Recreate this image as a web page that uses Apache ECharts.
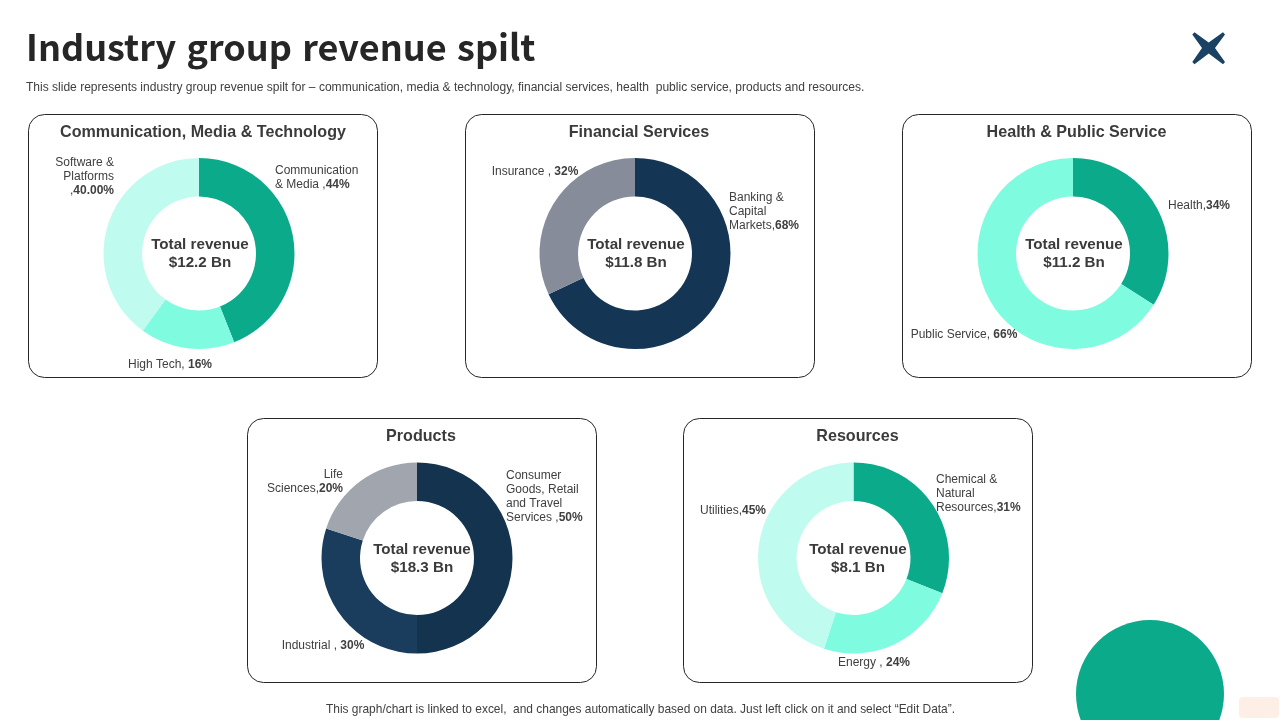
<!DOCTYPE html>
<html><head><meta charset="utf-8">
<style>html,body{margin:0;padding:0;background:#fff}#c{width:1280px;height:720px}</style>
<script src="https://cdn.jsdelivr.net/npm/echarts@6/dist/echarts.min.js"></script>
</head><body><div id="c"></div>
<script>
// ---- data ----
const commNames = ["Communication\n& Media ,", "High Tech, ", "Software &\nPlatforms\n,"];
const commValues = [44, 16, 40];
const commPct = ["44%", "16%", "40.00%"];
const finNames = ["Banking &\nCapital\nMarkets,", "Insurance , "];
const finValues = [68, 32];
const finPct = ["68%", "32%"];
const healthNames = ["Health,", "Public Service, "];
const healthValues = [34, 66];
const healthPct = ["34%", "66%"];
const prodNames = ["Consumer\nGoods, Retail\nand Travel\nServices ,", "Industrial , ", "Life\nSciences,"];
const prodValues = [50, 30, 20];
const prodPct = ["50%", "30%", "20%"];
const resNames = ["Chemical &\nNatural\nResources,", "Energy , ", "Utilities,"];
const resValues = [31, 24, 45];
const resPct = ["31%", "24%", "45%"];
const panelTitles = ["Communication, Media & Technology", "Financial Services", "Health & Public Service", "Products", "Resources"];
const totals = ["$12.2 Bn", "$11.8 Bn", "$11.2 Bn", "$18.3 Bn", "$8.1 Bn"];

// ---- styling / layout ----
const GREEN = "#0AAA8A", MINT = "#7FFBE0", PALE = "#BFFBEE";
const panels = [
  {names: commNames, values: commValues, pct: commPct, colors: [GREEN, MINT, PALE],
   box: [28.5, 114.5], h: 263, cx: 199, cy: 253.5, tc: 203, totalX: 200,
   labels: [[275, 177.5, "left"], [170, 365, "center"], [114, 177, "right"]]},
  {names: finNames, values: finValues, pct: finPct, colors: ["#143554", "#868C99"],
   box: [465.5, 114.5], h: 263, cx: 635, cy: 253.5, tc: 639, totalX: 636,
   labels: [[729, 211.5, "left"], [535, 172, "center"]]},
  {names: healthNames, values: healthValues, pct: healthPct, colors: [GREEN, MINT],
   box: [902.5, 114.5], h: 263, cx: 1073, cy: 253.5, tc: 1076.5, totalX: 1074,
   labels: [[1199, 206, "center"], [964, 335, "center"]]},
  {names: prodNames, values: prodValues, pct: prodPct, colors: ["#14334F", "#1A3D5D", "#A1A5AD"],
   box: [247.5, 418.5], h: 264, cx: 417, cy: 558, tc: 421, totalX: 422,
   labels: [[506, 497, "left"], [323, 646, "center"], [343, 482, "right"]]},
  {names: resNames, values: resValues, pct: resPct, colors: [GREEN, MINT, PALE],
   box: [683.5, 418.5], h: 264, cx: 853.5, cy: 558, tc: 857.5, totalX: 858,
   labels: [[936, 494, "left"], [874, 663, "center"], [733, 511, "center"]]}
];
const LABEL_FONT = "'Liberation Sans', Arial, sans-serif";
const CARD_W = 349;

const graphic = [
  {type: "text", left: 26, top: 29, style: {text: "Industry\u200A group\u200A revenue\u200A spilt", fill: "#262626",
    font: "bold 36px 'Noto Sans CJK KR', 'Noto Sans', sans-serif"}},
  {type: "text", left: 26, top: 82, style: {text: "This slide represents industry group revenue spilt for \u2013 communication, media & technology, financial services, health  public service, products and resources.",
    fill: "#404040", font: "12.04px " + LABEL_FONT}},
  {type: "text", x: 640.5, y: 704, style: {text: "This graph/chart is linked to excel,  and changes automatically based on data. Just left click on it and select \u201CEdit Data\u201D.",
    fill: "#404040", font: "11.95px " + LABEL_FONT, align: "center"}},
  {type: "circle", shape: {cx: 1150, cy: 694, r: 74}, style: {fill: GREEN}},
  {type: "rect", shape: {x: 1239, y: 697, width: 40, height: 21, r: 4}, style: {fill: "#FDEFE6"}},
  {type: "polygon", shape: {points: [[1192.3, 34.5], [1194.5, 32.3], [1208.7, 42.6], [1223, 32.3], [1225, 34.5], [1215, 48], [1225, 62], [1223, 64.3], [1208.7, 53.6], [1194.5, 64.3], [1192.3, 62], [1202, 48]]},
    style: {fill: "#1A4263"}}
];
panels.forEach((p, i) => {
  graphic.push({type: "rect", z: -1, shape: {x: p.box[0], y: p.box[1], width: CARD_W, height: p.h, r: 16},
    style: {fill: "#fff", stroke: "#262626", lineWidth: 1}});
  graphic.push({type: "text", x: p.tc, y: p.box[1] + 10.5, style: {text: panelTitles[i], fill: "#3B3B3B",
    font: "bold 16.1px " + LABEL_FONT, align: "center"}});
  graphic.push({type: "text", z: 10, x: p.totalX, y: p.cy - 17.5, style: {text: "Total revenue\n" + totals[i], fill: "#3B3B3B",
    font: "bold 15.2px " + LABEL_FONT, align: "center", lineHeight: 18}});
});

const series = panels.map(p => ({
  type: "pie",
  center: [p.cx, p.cy],
  radius: [57, 95.5],
  startAngle: 90,
  clockwise: true,
  silent: true,
  animation: false,
  avoidLabelOverlap: false,
  data: p.values.map((v, k) => ({value: v, name: p.names[k], itemStyle: {color: p.colors[k]}})),
  label: {
    show: true, position: "outside",
    formatter: q => "{a|" + p.names[q.dataIndex].split("\n").join("}\n{a|") + "}{b|" + p.pct[q.dataIndex] + "}",
    rich: {
      a: {fontFamily: LABEL_FONT, fontSize: 12, color: "#404040", lineHeight: 14},
      b: {fontFamily: LABEL_FONT, fontSize: 12, fontWeight: "bold", color: "#404040", lineHeight: 14}
    }
  },
  labelLine: {show: false},
  labelLayout: q => ({x: p.labels[q.dataIndex][0], y: p.labels[q.dataIndex][1], align: p.labels[q.dataIndex][2], verticalAlign: "middle"})
}));

const chart = echarts.init(document.getElementById("c"), null, {renderer: "canvas"});
chart.setOption({animation: false, backgroundColor: "#fff", graphic, series});
</script></body></html>
